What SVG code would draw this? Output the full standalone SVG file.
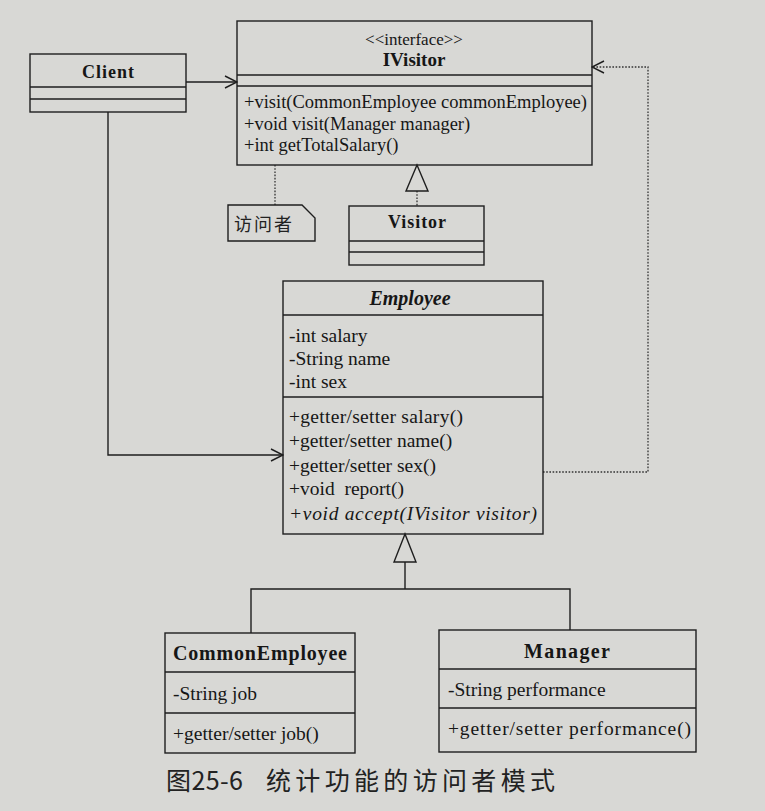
<svg xmlns="http://www.w3.org/2000/svg" width="765" height="811" viewBox="0 0 765 811">
<style>
.box{fill:none;stroke:#1e1e1e;stroke-width:1.4}
.ln{stroke:#1e1e1e;stroke-width:1.4;fill:none}
.dot{stroke:#333;stroke-width:1.3;fill:none;stroke-dasharray:1.6 1.6}
.t{font-family:"Liberation Serif","Times New Roman",serif;fill:#161616}
.b{font-weight:bold}
.c{text-anchor:middle}
.cjk{font-family:"Noto Sans CJK SC","Noto Sans",sans-serif;fill:#222}
</style>
<defs>
<marker id="open" markerWidth="14" markerHeight="14" refX="13" refY="7" orient="auto" markerUnits="userSpaceOnUse">
<path d="M1,1 L13,7 L1,13" fill="none" stroke="#1e1e1e" stroke-width="1.4" stroke-dasharray="none"/>
</marker>
</defs>
<rect width="765" height="811" fill="#d8d8d5"/>

<g id="connectors">
<line class="ln" x1="186" y1="82" x2="237" y2="82" marker-end="url(#open)"/>
<polyline class="ln" points="108,112 108,455 283,455" marker-end="url(#open)"/>
<polyline class="dot" points="543,472 648,472 648,67 592,67" marker-end="url(#open)"/>
<line class="dot" x1="275" y1="165" x2="275" y2="205"/>
<line class="dot" x1="417" y1="191" x2="417" y2="206"/>
<polygon points="417,165 406,191 428,191" fill="#d8d8d5" stroke="#1e1e1e" stroke-width="1.4"/>
<polygon points="405,534 394,562 416,562" fill="#d8d8d5" stroke="#1e1e1e" stroke-width="1.4"/>
<line class="ln" x1="405" y1="562" x2="405" y2="589"/>
<polyline class="ln" points="251,633 251,589 570,589 570,630"/>
</g>

<g id="client">
<rect class="box" x="30" y="54" width="156" height="58"/>
<line class="ln" x1="30" y1="87" x2="186" y2="87"/>
<line class="ln" x1="30" y1="99" x2="186" y2="99"/>
<text class="t b c" x="108" y="78" font-size="18" textLength="52">Client</text>
</g>

<g id="ivisitor">
<rect class="box" x="237" y="21" width="355" height="144"/>
<line class="ln" x1="237" y1="75" x2="592" y2="75"/>
<line class="ln" x1="237" y1="86" x2="592" y2="86"/>
<text class="t c" x="414" y="45" font-size="17">&lt;&lt;interface&gt;&gt;</text>
<text class="t b c" x="414" y="66" font-size="19">IVisitor</text>
<text class="t" x="244" y="108" font-size="18.5" textLength="343">+visit(CommonEmployee commonEmployee)</text>
<text class="t" x="244" y="130" font-size="18.5">+void visit(Manager manager)</text>
<text class="t" x="244" y="151" font-size="18.5">+int getTotalSalary()</text>
</g>

<g id="note">
<path class="box" d="M228,205 H302 L315,218 V241 H228 Z"/>
<text class="cjk" x="234" y="231" font-size="18" letter-spacing="2">访问者</text>
</g>

<g id="visitor">
<rect class="box" x="349" y="206" width="135" height="59"/>
<line class="ln" x1="349" y1="241" x2="484" y2="241"/>
<line class="ln" x1="349" y1="252" x2="484" y2="252"/>
<text class="t b c" x="417" y="228" font-size="18" textLength="58">Visitor</text>
</g>

<g id="employee">
<rect class="box" x="283" y="281" width="260" height="253"/>
<line class="ln" x1="283" y1="315" x2="543" y2="315"/>
<line class="ln" x1="283" y1="397" x2="543" y2="397"/>
<text class="t b c" x="410" y="305" font-size="20" font-style="italic">Employee</text>
<text class="t" x="289" y="342" font-size="19.5">-int salary</text>
<text class="t" x="289" y="365" font-size="19.5">-String name</text>
<text class="t" x="289" y="388" font-size="19.5">-int sex</text>
<text class="t" x="289" y="423" font-size="19.5" textLength="174">+getter/setter salary()</text>
<text class="t" x="289" y="447" font-size="19.5">+getter/setter name()</text>
<text class="t" x="289" y="472" font-size="19.5">+getter/setter sex()</text>
<text class="t" x="289" y="495" font-size="19.5" xml:space="preserve">+void  report()</text>
<text class="t" x="289" y="520" font-size="19.5" font-style="italic" textLength="248">+void accept(IVisitor visitor)</text>
</g>

<g id="commonemployee">
<rect class="box" x="165" y="633" width="190" height="120"/>
<line class="ln" x1="165" y1="672" x2="355" y2="672"/>
<line class="ln" x1="165" y1="713" x2="355" y2="713"/>
<text class="t b c" x="260" y="660" font-size="20" textLength="174">CommonEmployee</text>
<text class="t" x="173" y="700" font-size="19.5">-String job</text>
<text class="t" x="173" y="740" font-size="19.5">+getter/setter job()</text>
</g>

<g id="manager">
<rect class="box" x="439" y="630" width="257" height="122"/>
<line class="ln" x1="439" y1="669" x2="696" y2="669"/>
<line class="ln" x1="439" y1="708" x2="696" y2="708"/>
<text class="t b c" x="567" y="658" font-size="20" textLength="86">Manager</text>
<text class="t" x="448" y="696" font-size="19.5">-String performance</text>
<text class="t" x="448" y="735" font-size="19.5" textLength="243">+getter/setter performance()</text>
</g>

<g id="caption">
<text class="cjk" x="166" y="790" font-size="25" textLength="77">图25-6</text>
<text class="cjk" x="266" y="790" font-size="25" textLength="289">统计功能的访问者模式</text>
</g>
</svg>
